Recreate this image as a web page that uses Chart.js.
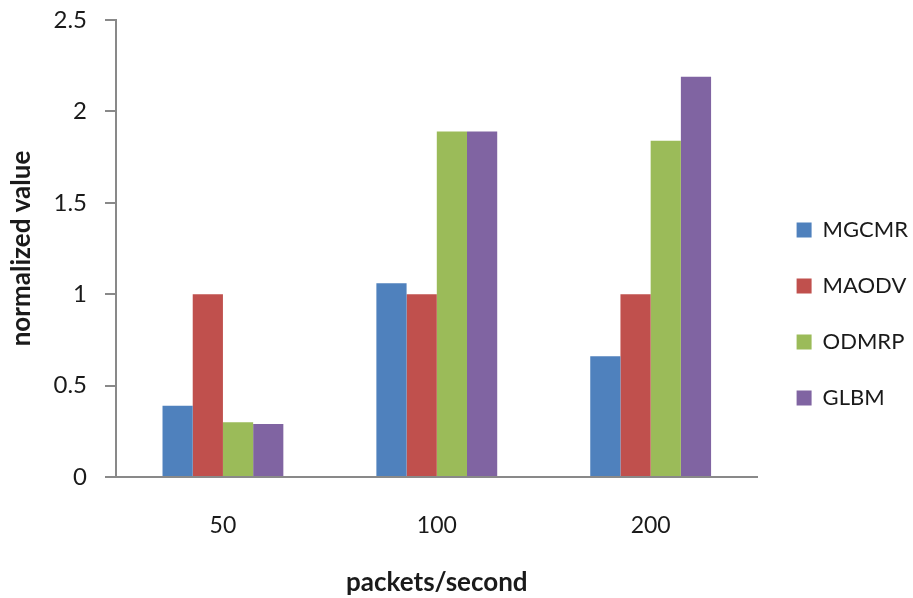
<!DOCTYPE html>
<html>
<head>
<meta charset="utf-8">
<script src="https://cdn.jsdelivr.net/npm/chart.js@4/dist/chart.umd.min.js"></script>
<style>
  html, body { margin: 0; padding: 0; background: #fff; }
  #wrap { width: 913px; height: 598px; }
</style>
</head>
<body>
<div id="wrap"><canvas id="barCanvas"></canvas></div>
<script>
// categories (x axis)
var rates = ["50", "100", "200"];
// series values
var mgcmr = [0.39, 1.06, 0.66];
var maodv = [1.00, 1.00, 1.00];
var odmrp = [0.30, 1.89, 1.84];
var glbm  = [0.29, 1.89, 2.19];
// y tick labels
var yTicks = [0, 0.5, 1, 1.5, 2, 2.5];

var axisGray = "#898989";
var textColor = "#1a1a1a";
Chart.defaults.font.family = "Lato, 'Open Sans', sans-serif";
Chart.defaults.color = textColor;

// push the legend a little to the right / down, like the original
var nudgeLegend = {
	id: "nudgeLegend",
	afterLayout: function (chart) {
		var lg = chart.legend;
		lg.left += 5; lg.right += 5;
		lg.top += 15; lg.bottom += 15;
	}
};

var ctx = document.getElementById("barCanvas").getContext("2d");
var myChart = new Chart(ctx, {
	type: "bar",
	data: {
		labels: rates,
		datasets: [
			{ label: "MGCMR", data: mgcmr, backgroundColor: "#4F81BD" },
			{ label: "MAODV", data: maodv, backgroundColor: "#C0504D" },
			{ label: "ODMRP", data: odmrp, backgroundColor: "#9BBB59" },
			{ label: "GLBM",  data: glbm,  backgroundColor: "#8064A2" }
		]
	},
	options: {
		responsive: true,
		maintainAspectRatio: false,
		animation: false,
		layout: { padding: 0 },
		datasets: { bar: { barPercentage: 1, categoryPercentage: 0.565 } },
		plugins: {
			tooltip: { enabled: false },
			legend: {
				position: "right",
				labels: {
					boxWidth: 15,
					boxHeight: 15,
					padding: 34,
					color: textColor,
					font: { size: 22 }
				}
			}
		},
		scales: {
			x: {
				grid: { display: false, drawTicks: false },
				border: { display: true, color: axisGray, width: 2 },
				ticks: { padding: 35, font: { size: 23 }, color: textColor },
				title: {
					display: true,
					text: "packets/second",
					font: { size: 26, weight: "bold" },
					color: textColor,
					padding: { top: 0, bottom: 0 }
				},
				afterFit: function (scale) { scale.height = 121; }
			},
			y: {
				min: 0,
				max: 2.5,
				afterBuildTicks: function (scale) {
					scale.ticks = yTicks.map(function (v) { return { value: v }; });
				},
				grid: {
					display: true,
					drawOnChartArea: false,
					drawTicks: true,
					tickLength: 11,
					color: axisGray,
					lineWidth: 2
				},
				border: { display: true, color: axisGray, width: 2 },
				ticks: {
					padding: 18,
					font: { size: 24 },
					color: textColor,
					callback: function (v) { return String(v); }
				},
				title: {
					display: true,
					text: "normalized value",
					font: { size: 26, weight: "bold" },
					color: textColor,
					padding: { top: 6, bottom: 0 }
				},
				afterFit: function (scale) {
					scale.width = 116;
					scale.paddingTop = 20;
				}
			}
		}
	},
	plugins: [nudgeLegend]
});
</script>
</body>
</html>
